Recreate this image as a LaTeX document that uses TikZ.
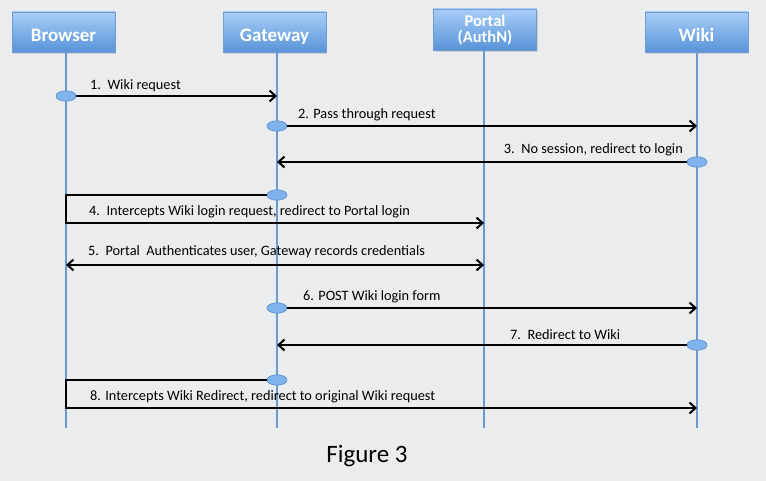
\documentclass[tikz,border=0pt]{standalone}
\usepackage{fontspec}
\setmainfont{Carlito}
\usetikzlibrary{arrows.meta,shapes.geometric,shadows}
\definecolor{bg}{RGB}{235,236,238}
\definecolor{boxtop}{RGB}{168,205,247}
\definecolor{boxbot}{RGB}{88,148,216}
\definecolor{boxline}{RGB}{112,156,212}
\definecolor{life}{RGB}{106,154,210}
\definecolor{dotfill}{RGB}{128,178,236}
\definecolor{dotline}{RGB}{88,140,205}
\tikzset{
  actor/.style={rectangle, draw=boxline, line width=0.8pt, top color=boxtop, bottom color=boxbot,
    minimum width=103pt, minimum height=40pt, inner sep=0pt, text=white,
    font=\fontsize{19}{21}\selectfont\bfseries, align=center,
    drop shadow={opacity=0.25, shadow xshift=1pt, shadow yshift=-2pt}},
  lifeline/.style={draw=life, line width=2pt},
  msgdot/.style={ellipse, draw=dotline, line width=0.6pt, fill=dotfill, minimum width=20pt, minimum height=10.5pt, inner sep=0pt},
  msg/.style={draw=black, line width=2.4pt, -{Straight Barb[length=6pt,width=11pt,line width=2pt]}},
  msgboth/.style={draw=black, line width=2.4pt, {Straight Barb[length=6pt,width=11pt,line width=2pt]}-{Straight Barb[length=6pt,width=11pt,line width=2pt]}},
  lbl/.style={font=\fontsize{14.3}{16}\selectfont, inner sep=0pt, anchor=west, yshift=-1.5pt},
}
\begin{document}
\begin{tikzpicture}[x=1pt,y=-1pt]
\useasboundingbox[fill=bg] (0,0) rectangle (766,481);
% actors
\node[actor, text height=18.5pt, text depth=0pt] (browser) at (63.5,32) {Browser};
\node[actor, text height=18.5pt, text depth=0pt] (gateway) at (274.5,32) {Gateway};
\node[actor, minimum height=41pt, font=\fontsize{16.5}{17}\selectfont\bfseries] (portal) at (485,29.5) {Portal\\[-1pt](AuthN)};
\node[actor, text height=18.5pt, text depth=0pt] (wiki) at (696.5,32) {Wiki};
% lifeline ends
\coordinate (bt) at (66,52); \coordinate (bb) at (66,428);
\coordinate (gt) at (277,52); \coordinate (gb) at (277,428);
\coordinate (pt) at (484,50); \coordinate (pb) at (484,428);
\coordinate (wt) at (697,52); \coordinate (wb) at (697,428);
\draw[lifeline] (bt) -- (bb);
\draw[lifeline] (gt) -- (gb);
\draw[lifeline] (pt) -- (pb);
\draw[lifeline] (wt) -- (wb);
% message endpoints
\coordinate (e1) at (277,96);
\coordinate (e2) at (697,126);
\coordinate (e3) at (277,162);
\coordinate (c4a) at (66,195); \coordinate (c4b) at (66,223); \coordinate (e4) at (484,223);
\coordinate (s5) at (66,265); \coordinate (e5) at (484,265);
\coordinate (e6) at (697,308);
\coordinate (e7) at (277,345);
\coordinate (c8a) at (66,380); \coordinate (c8b) at (66,408); \coordinate (e8) at (697,408);
% 1
\draw[msg] (66,96) -- (e1);
\node[msgdot] (d1) at (66,96) {};
\node[lbl] (l1) at (90,84) {1.\ \ Wiki request};
% 2
\node[msgdot] (d2) at (277,126) {};
\draw[msg] (d2.east) -- (e2);
\node[lbl] (l2) at (298,113) {2. Pass through request};
% 3
\node[msgdot] (d3) at (697,162) {};
\draw[msg] (d3.west) -- (e3);
\node[lbl, anchor=east] (l3) at (683,148) {3.\ \ No session, redirect to login};
% 4
\node[msgdot] (d4) at (277,195) {};
\draw[msg] (d4.west) -- (c4a) -- (c4b) -- (e4);
\node[lbl] (l4) at (89,210) {4.\ \ Intercepts Wiki login request, redirect to Portal login};
% 5
\draw[msgboth] (s5) -- (e5);
\node[lbl] (l5) at (88,250) {5.\ \ Portal\ \ Authenticates user, Gateway records credentials};
% 6
\node[msgdot] (d6) at (277,308) {};
\draw[msg] (d6.east) -- (e6);
\node[lbl] (l6) at (303,295) {6. POST Wiki login form};
% 7
\node[msgdot] (d7) at (697,345) {};
\draw[msg] (d7.west) -- (e7);
\node[lbl] (l7) at (510,333) {7.\ \ Redirect to Wiki};
% 8
\node[msgdot] (d8) at (277,380) {};
\draw[msg] (d8.west) -- (c8a) -- (c8b) -- (e8);
\node[lbl] (l8) at (90,395) {8. Intercepts Wiki Redirect, redirect to original Wiki request};
% caption
\node[font=\fontsize{25}{28}\selectfont, inner sep=0pt] (cap) at (367,456) {Figure 3};
\end{tikzpicture}
\end{document}
